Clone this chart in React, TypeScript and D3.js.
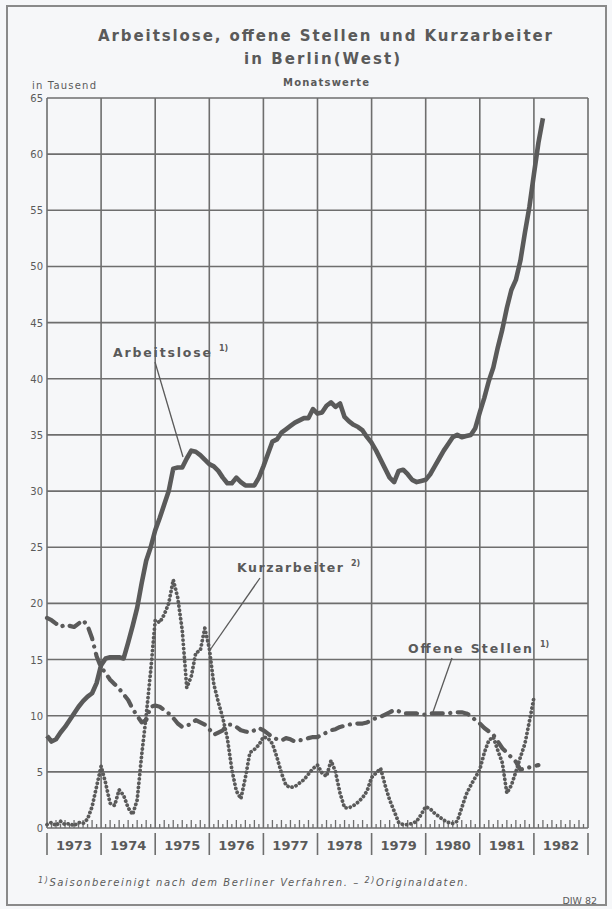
import React, { useEffect, useRef } from "react";
import * as d3 from "d3";

// monthly values from Jan 1973, in thousands
const arbeitslose = [
  8.2, 7.7, 7.9, 8.5, 9.0, 9.6, 10.2, 10.8, 11.3, 11.7, 12.0, 12.9,
  14.5, 15.1, 15.2, 15.2, 15.2, 15.1, 16.5, 18.0, 19.6, 21.8, 23.8, 25.0,
  26.5, 27.6, 28.8, 30.0, 32.0, 32.1, 32.1, 32.9, 33.6, 33.5, 33.2, 32.8,
  32.4, 32.2, 31.8, 31.2, 30.7, 30.7, 31.2, 30.8, 30.5, 30.5, 30.5, 31.2,
  32.2, 33.3, 34.4, 34.6, 35.2, 35.5, 35.8, 36.1, 36.3, 36.5, 36.5, 37.3,
  36.9, 37.0, 37.6, 37.9, 37.5, 37.8, 36.6, 36.2, 35.9, 35.7, 35.4, 34.8,
  34.3, 33.6, 32.8, 32.0, 31.2, 30.8, 31.8, 31.9, 31.5, 31.0, 30.8, 30.9,
  31.0, 31.5, 32.2, 32.9, 33.6, 34.2, 34.8, 35.0, 34.8, 34.9, 35.0, 35.6,
  37.0, 38.3, 39.8, 41.0, 42.8, 44.4, 46.3, 47.9, 48.8, 50.5, 53.0, 55.3,
  58.2, 61.0, 63.2,
];

const offeneStellen = [
  18.7, 18.5, 18.2, 17.9, 18.1, 18.0, 17.9, 18.2, 18.5, 18.0, 16.9, 15.3,
  14.3, 13.8, 13.2, 12.8, 12.4, 11.9, 11.4, 10.6, 10.0, 9.4, 9.6, 10.8,
  10.9, 10.8, 10.5, 10.2, 9.8, 9.3, 9.0, 9.1, 9.3, 9.6, 9.4, 9.2,
  8.8, 8.3, 8.5, 8.7, 9.2, 9.2, 9.0, 8.7, 8.6, 8.5, 8.7, 8.9,
  8.7, 8.4, 8.1, 7.9, 7.8, 8.0, 7.9, 7.7, 7.8, 7.9, 8.0, 8.1,
  8.1, 8.3, 8.5, 8.7, 8.8, 9.0, 9.1, 9.2, 9.3, 9.3, 9.3, 9.4,
  9.6, 9.8, 9.9, 10.1, 10.3, 10.5, 10.4, 10.2, 10.2, 10.2, 10.2, 10.1,
  10.1, 10.2, 10.2, 10.2, 10.2, 10.2, 10.3, 10.3, 10.3, 10.2, 10.0, 9.6,
  9.3, 8.9, 8.6, 8.3, 7.7, 7.1, 6.7, 6.3, 5.9, 5.2, 5.3, 5.4,
  5.5, 5.6,
];

const kurzarbeiter = [
  0.3, 0.5, 0.2, 0.6, 0.3, 0.4, 0.2, 0.5, 0.4, 0.8, 1.9, 3.7,
  5.5, 4.0, 2.2, 2.0, 3.4, 2.9, 1.8, 1.2, 2.5, 6.5, 10.0, 14.0,
  18.5, 18.3, 19.0, 20.0, 22.1, 20.5, 17.6, 12.5, 13.5, 15.6, 15.8, 17.8,
  16.0, 12.8, 11.2, 9.8, 8.0, 5.2, 3.3, 2.6, 4.5, 6.7, 7.0, 7.4,
  8.1, 8.0, 7.5, 6.3, 4.9, 3.8, 3.6, 3.7, 4.0, 4.3, 4.8, 5.3,
  5.6, 4.9, 4.6, 6.0, 5.0, 3.1, 1.8, 1.8, 2.0, 2.3, 2.7, 3.3,
  4.5, 4.9, 5.3, 3.8, 2.5, 1.5, 0.5, 0.3, 0.3, 0.4, 0.6, 1.2,
  1.9, 1.7, 1.3, 1.0, 0.7, 0.5, 0.4, 0.6, 1.8, 3.0, 3.8, 4.5,
  5.2, 6.7, 7.8, 8.1, 6.9, 5.8, 3.1, 3.8, 5.0, 6.3, 7.5, 9.5,
  11.6,
];

const years = [1973, 1974, 1975, 1976, 1977, 1978, 1979, 1980, 1981, 1982];
const yTicks = [0, 5, 10, 15, 20, 25, 30, 35, 40, 45, 50, 55, 60, 65];

const ink = "#5a5a5a";
const gridInk = "#6e6e6e";
const font = "'DejaVu Sans', Verdana, sans-serif";

function Chart() {
  const svgNode = useRef<SVGSVGElement>(null);
  const width = 612;
  const height = 909;
  const margin = { top: 98, right: 24, bottom: 81, left: 47 };

  useEffect(() => {
    const svg = d3.select(svgNode.current);
    svg.selectAll("*").remove();

    // x in months since Jan 1973
    const x = d3.scaleLinear()
      .domain([0, years.length * 12])
      .range([margin.left, width - margin.right]);
    const y = d3.scaleLinear()
      .domain([0, 65])
      .range([height - margin.bottom, margin.top]);

    svg.append("rect")
      .attr("width", width).attr("height", height)
      .attr("fill", "#f6f7f9");
    svg.append("rect")
      .attr("x", 7).attr("y", 6).attr("width", 599).attr("height", 899)
      .attr("fill", "none").attr("stroke", "#8a8a8a").attr("stroke-width", 2);

    //Titles
    svg.append("text")
      .attr("x", 325).attr("y", 41).attr("text-anchor", "middle")
      .attr("font-family", font).attr("font-weight", "bold").attr("font-size", 15)
      .attr("fill", ink).attr("textLength", 454).attr("lengthAdjust", "spacing")
      .text("Arbeitslose, offene Stellen und Kurzarbeiter");
    svg.append("text")
      .attr("x", 322).attr("y", 64).attr("text-anchor", "middle")
      .attr("font-family", font).attr("font-weight", "bold").attr("font-size", 15)
      .attr("fill", ink).attr("textLength", 156).attr("lengthAdjust", "spacing")
      .text("in Berlin(West)");
    svg.append("text")
      .attr("x", 326).attr("y", 86).attr("text-anchor", "middle")
      .attr("font-family", font).attr("font-weight", "bold").attr("font-size", 10)
      .attr("fill", ink).attr("textLength", 86).attr("lengthAdjust", "spacing")
      .text("Monatswerte");
    svg.append("text")
      .attr("x", 32).attr("y", 89)
      .attr("font-family", font).attr("font-size", 10)
      .attr("fill", ink).attr("textLength", 64).attr("lengthAdjust", "spacing")
      .text("in Tausend");

    //Grid
    const grid = svg.append("g").attr("stroke", gridInk).attr("stroke-width", 1.6);
    grid.selectAll("line.h")
      .data(yTicks)
      .join("line")
      .attr("x1", x(0)).attr("x2", x(years.length * 12))
      .attr("y1", d => y(d)).attr("y2", d => y(d));
    grid.selectAll("line.v")
      .data(d3.range(years.length + 1))
      .join("line")
      .attr("x1", d => x(d * 12)).attr("x2", d => x(d * 12))
      .attr("y1", y(65)).attr("y2", y(0));

    //Y labels
    svg.append("g")
      .selectAll("text")
      .data(yTicks)
      .join("text")
      .attr("x", 43).attr("y", d => y(d) + 4)
      .attr("text-anchor", "end")
      .attr("font-family", font).attr("font-size", 10).attr("fill", ink)
      .text(d => d);

    //Monthly ticks on the zero line
    svg.append("g")
      .selectAll("line")
      .data(d3.range(1, years.length * 12).filter(m => m % 12 !== 0))
      .join("line")
      .attr("x1", d => x(d)).attr("x2", d => x(d))
      .attr("y1", y(0)).attr("y2", d => y(0) - (d % 2 === 0 ? 8 : 4))
      .attr("stroke", gridInk).attr("stroke-width", 1.3);

    //Year labels and separators
    svg.append("g")
      .selectAll("line")
      .data(d3.range(years.length + 1))
      .join("line")
      .attr("x1", d => x(d * 12)).attr("x2", d => x(d * 12))
      .attr("y1", y(0) + 5).attr("y2", y(0) + 27)
      .attr("stroke", gridInk).attr("stroke-width", 1.6);
    svg.append("g")
      .selectAll("text")
      .data(years)
      .join("text")
      .attr("x", (d, i) => x(i * 12 + 6)).attr("y", y(0) + 22)
      .attr("text-anchor", "middle")
      .attr("font-family", font).attr("font-weight", "bold").attr("font-size", 13)
      .attr("fill", ink)
      .text(d => d);

    //Series
    const line = d3.line<number>()
      .x((d, i) => x(i))
      .y(d => y(d));

    svg.append("path")
      .attr("d", line(kurzarbeiter))
      .attr("fill", "none").attr("stroke", ink)
      .attr("stroke-width", 3.8).attr("stroke-linecap", "round")
      .attr("stroke-dasharray", "0.1 4.2");
    svg.append("path")
      .attr("d", line(offeneStellen))
      .attr("fill", "none").attr("stroke", ink)
      .attr("stroke-width", 4.2).attr("stroke-linecap", "round").attr("stroke-linejoin", "round")
      .attr("stroke-dasharray", "11 7.5 0.1 7.5");
    svg.append("path")
      .attr("d", line(arbeitslose))
      .attr("fill", "none").attr("stroke", ink)
      .attr("stroke-width", 4.6).attr("stroke-linejoin", "round");

    //Series labels with leader lines
    const labels = [
      { text: "Arbeitslose", note: "1)", x: 113, y: 357, w: 98, from: [155, 362], to: [183, 457] },
      { text: "Kurzarbeiter", note: "2)", x: 237, y: 572, w: 106, from: [260, 578], to: [210, 650] },
      { text: "Offene Stellen", note: "1)", x: 408, y: 653, w: 124, from: [452, 658], to: [433, 712] },
    ];
    const lab = svg.append("g").selectAll("g").data(labels).join("g");
    lab.append("line")
      .attr("x1", d => d.from[0]).attr("y1", d => d.from[1])
      .attr("x2", d => d.to[0]).attr("y2", d => d.to[1])
      .attr("stroke", ink).attr("stroke-width", 1.3);
    lab.append("text")
      .attr("x", d => d.x).attr("y", d => d.y)
      .attr("font-family", font).attr("font-weight", "bold").attr("font-size", 12.5)
      .attr("fill", ink)
      .attr("textLength", d => d.w).attr("lengthAdjust", "spacing")
      .text(d => d.text);
    lab.append("text")
      .attr("x", d => d.x + d.w + 8).attr("y", d => d.y - 6)
      .attr("font-family", font).attr("font-weight", "bold").attr("font-size", 8)
      .attr("fill", ink)
      .text(d => d.note);

    //Footnote
    const foot = svg.append("text")
      .attr("x", 38).attr("y", 886)
      .attr("font-family", font).attr("font-style", "italic").attr("font-size", 10)
      .attr("fill", ink).attr("textLength", 430).attr("lengthAdjust", "spacing");
    foot.append("tspan").attr("font-size", 8).attr("dy", -3).text("1)");
    foot.append("tspan").attr("dy", 3).text("Saisonbereinigt nach dem Berliner Verfahren. – ");
    foot.append("tspan").attr("font-size", 8).attr("dy", -3).text("2)");
    foot.append("tspan").attr("dy", 3).text("Originaldaten.");

    svg.append("text")
      .attr("x", 597).attr("y", 904).attr("text-anchor", "end")
      .attr("font-family", font).attr("font-size", 9.5).attr("fill", ink)
      .text("DIW 82");
  });

  return (
    <svg ref={svgNode} width={width} height={height}
      style={{ position: "absolute", left: 0, top: 0, display: "block" }} />
  );
}

export default function App() {
  return <Chart />;
}
